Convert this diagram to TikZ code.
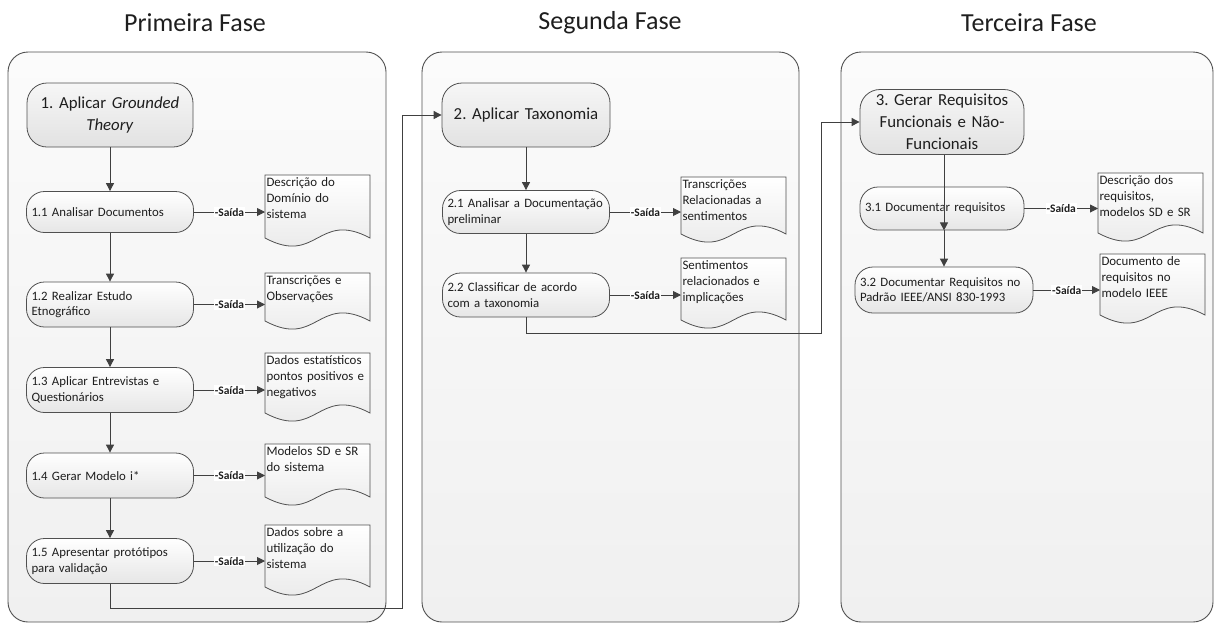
\documentclass[tikz,border=0pt]{standalone}
\usepackage{fontspec}
\setmainfont{Carlito}
\frenchspacing
\hyphenpenalty=10000
\exhyphenpenalty=10000
\usetikzlibrary{arrows.meta,calc}
\pgfdeclarelayer{back}
\pgfdeclarelayer{mid}
\pgfsetlayers{back,mid,main}
\definecolor{edge}{HTML}{505050}
\definecolor{lin}{HTML}{404040}
\definecolor{txt}{HTML}{1E1E1E}
\definecolor{phtop}{HTML}{FBFBFB}
\definecolor{phbot}{HTML}{F0F0F0}
\definecolor{boxbot}{HTML}{E6E6E6}
\definecolor{ttop}{HTML}{F6F6F6}
\definecolor{tbot}{HTML}{E2E2E2}
\tikzset{
  phasebox/.style={draw=edge, line width=0.9pt, rounded corners=20pt, top color=phtop, bottom color=phbot, anchor=north west, inner sep=0pt, outer sep=0pt},
  phasetitle/.style={font=\fontsize{26}{30}\selectfont, text=txt},
  titlebox/.style={draw=edge, line width=0.8pt, rounded corners=20pt, top color=ttop, bottom color=tbot, minimum height=64pt, minimum width=#1, text width=#1-16pt, align=center, inner xsep=8pt, font=\fontsize{16.8}{22}\selectfont, text=txt},
  stepbox/.style={draw=edge, line width=0.8pt, rounded corners=18pt, top color=white, bottom color=boxbot, minimum height=43pt, minimum width=#1, text width=#1-10pt, align=left, inner xsep=5pt, font=\fontsize{12.8}{15.5}\selectfont, text=txt},
  doctext/.style={anchor=north west, text width=102pt, inner xsep=1.5pt, inner ysep=3pt, outer sep=0pt, align=left, font=\fontsize{12.9}{16}\selectfont, text=txt},
  docline/.style={draw=edge, line width=0.8pt, top color=white, bottom color=boxbot},
  arr/.style={draw=lin, line width=0.9pt, -{Triangle[length=8pt,width=8pt]}},
  saida/.style={midway, fill=white, inner sep=1pt, font=\bfseries\fontsize{11.5}{13}\selectfont, text=txt},
}
\newcommand\docshape[2]{%
  \begin{pgfonlayer}{mid}
  \path[docline] (#1.north west) -- (#1.north east) -- ($(#1.north east)+(0,#2)$)
    .. controls ($(#1.north)+(0,#2-28)$) and ($(#1.north)+(0,#2+28)$) .. ($(#1.north west)+(0,#2)$) -- cycle;
  \end{pgfonlayer}}
\begin{document}
\begin{tikzpicture}[x=1pt,y=-1pt]
\useasboundingbox (0,0) rectangle (1215,625);
% phase containers
\begin{pgfonlayer}{back}
\node[phasebox, minimum width=378pt, minimum height=570pt] (p1) at (8,52) {};
\node[phasebox, minimum width=377pt, minimum height=570pt] (p2) at (422,52) {};
\node[phasebox, minimum width=372pt, minimum height=570pt] (p3) at (841,52) {};
\end{pgfonlayer}
\node[phasetitle] (h1) at (195,23) {Primeira Fase};
\node[phasetitle] (h2) at (610,23) {Segunda Fase};
\node[phasetitle] (h3) at (1029,23) {Terceira Fase};

% phase 1
\node[titlebox=166pt] (t1) at (110,115) {1. Aplicar \textit{Grounded}\\\textit{Theory}};
\node[stepbox=167pt, minimum height=41pt] (s11) at (110,212) {1.1 Analisar Documentos};
\node[stepbox=167pt, minimum height=45pt] (s12) at (110,304.5) {1.2 Realizar Estudo\\Etnográfico};
\node[stepbox=167pt, minimum height=45pt] (s13) at (110,390) {1.3 Aplicar Entrevistas e\\Questionários};
\node[stepbox=167pt, minimum height=45pt] (s14) at (110,475.5) {1.4 Gerar Modelo i*};
\node[stepbox=167pt, minimum height=45pt] (s15) at (110,561) {1.5 Apresentar protótipos\\para validação};

\node[doctext] (d11) at (265,175) {Descrição do\\Domínio do\\sistema};
\node[doctext] (d12) at (265,273) {Transcrições e\\Observações};
\node[doctext] (d13) at (265,353) {Dados estatísticos\\pontos positivos e\\negativos};
\node[doctext] (d14) at (265,444) {Modelos SD e SR\\do sistema};
\node[doctext] (d15) at (265,525) {Dados sobre a\\utilização do\\sistema};
\docshape{d11}{63}
\docshape{d12}{48}
\docshape{d13}{60}
\docshape{d14}{53}
\docshape{d15}{62}

\draw[arr] (t1) -- (s11);
\draw[arr] (s11) -- (s12);
\draw[arr] (s12) -- (s13);
\draw[arr] (s13) -- (s14);
\draw[arr] (s14) -- (s15);
\draw[arr] (s11.east) -- node[saida] {-Saída} (s11.east -| d11.west);
\draw[arr] (s12.east) -- node[saida] {-Saída} (s12.east -| d12.west);
\draw[arr] (s13.east) -- node[saida] {-Saída} (s13.east -| d13.west);
\draw[arr] (s14.east) -- node[saida] {-Saída} (s14.east -| d14.west);
\draw[arr] (s15.east) -- node[saida] {-Saída} (s15.east -| d15.west);

% phase 2
\node[titlebox=168pt] (t2) at (526,115) {2. Aplicar Taxonomia};
\node[stepbox=167pt, minimum height=43pt] (s21) at (526,212) {2.1 Analisar a Documentação\\preliminar};
\node[stepbox=167pt, minimum height=44pt] (s22) at (526,295) {2.2 Classificar de acordo\\com a taxonomia};
\node[doctext] (d21) at (681,177) {Transcrições\\Relacionadas a\\sentimentos};
\node[doctext] (d22) at (681,258) {Sentimentos\\relacionados e\\implicações};
\docshape{d21}{57}
\docshape{d22}{62}
\draw[arr] (t2) -- (s21);
\draw[arr] (s21) -- (s22);
\draw[arr] (s21.east) -- node[saida] {-Saída} (s21.east -| d21.west);
\draw[arr] (s22.east) -- node[saida] {-Saída} (s22.east -| d22.west);

% phase 3
\node[titlebox=164pt, minimum height=65pt] (t3) at (942,122) {3. Gerar Requisitos\\Funcionais e Não-\\Funcionais};
\node[stepbox=164pt, minimum height=43pt] (s31) at (942,208.5) {3.1 Documentar requisitos};
\node[stepbox=178pt, minimum height=46pt] (s32) at (944,290) {3.2 Documentar Requisitos no\\Padrão IEEE/ANSI 830-1993};
\node[doctext] (d31) at (1098,173) {Descrição dos\\requisitos,\\modelos SD e SR};
\node[doctext] (d32) at (1100,254) {Documento de\\requisitos no\\modelo IEEE};
\docshape{d31}{60}
\docshape{d32}{61}
\draw[arr] (t3.south -| s32) -- (s31.south -| s32) ;
\draw[arr] (s31.south -| s32) -- (s32);
\draw[arr] (s31.east) -- node[saida] {-Saída} (s31.east -| d31.west);
\draw[arr] (s32.east) -- node[saida] {-Saída} (s32.east -| d32.west);

% inter-phase connectors
\coordinate (b1) at (402,608);
\coordinate (b2) at (821,333);
\draw[arr] (s15.south) |- (b1) |- (t2.west);
\draw[arr] (s22.south) |- (b2) |- (t3.west);
\end{tikzpicture}
\end{document}
